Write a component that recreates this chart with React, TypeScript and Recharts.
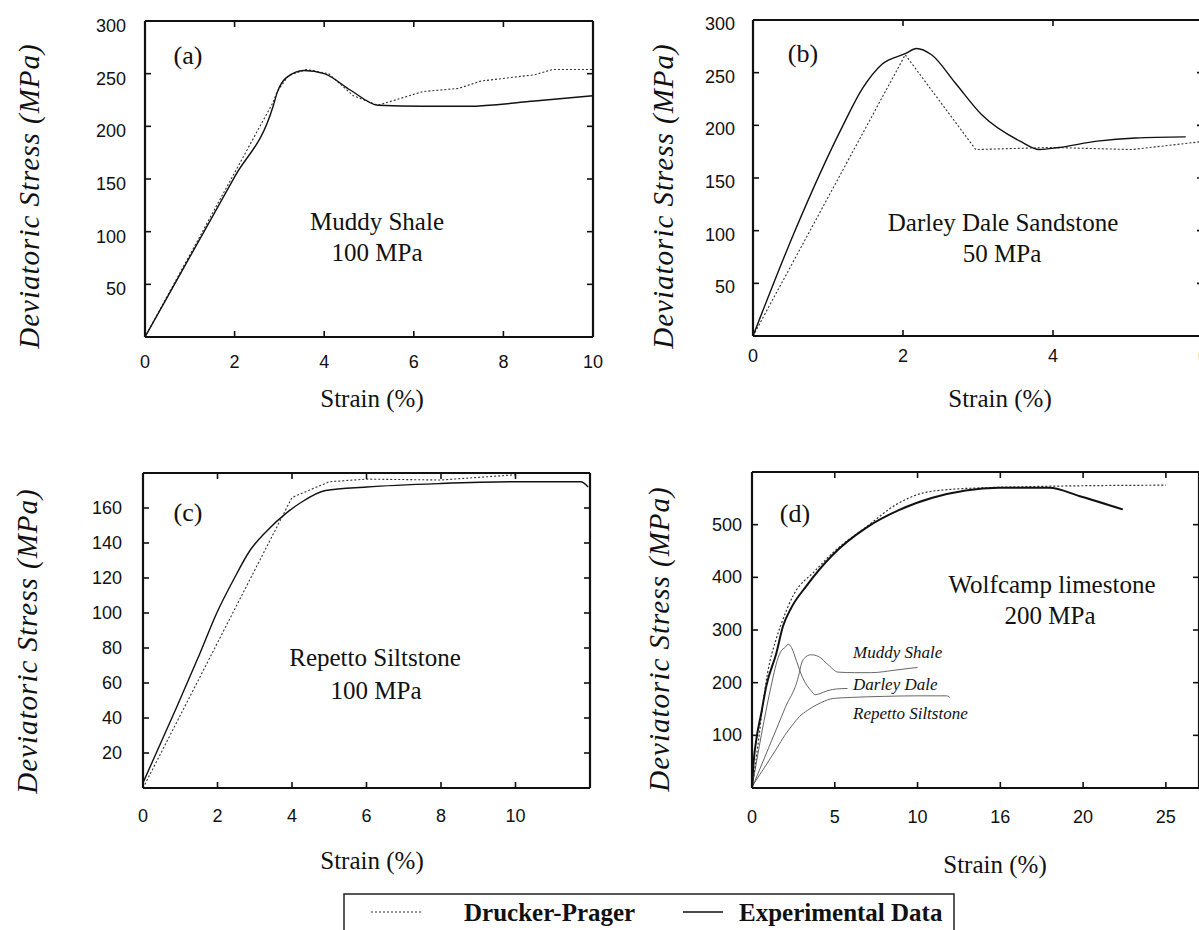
import React from 'react';
import { LineChart, Line, XAxis, YAxis, ReferenceDot } from 'recharts';

// (a) Muddy Shale, 100 MPa confining
const muddyExpStrain = [0, 1, 2, 2.86, 2.95, 3.15, 3.55, 4.0, 4.6, 5.2, 6.2, 7.2, 8.7, 10];
const muddyExpStress = [0, 76, 152, 219, 232, 246, 253, 250, 234, 220, 219, 219, 224, 229];
const muddyDpStrain = [0, 1, 2, 2.85, 2.95, 3.2, 3.6, 4.1, 4.65, 5.2, 6.2, 7.0, 7.5, 8.7, 9.1, 10];
const muddyDpStress = [0, 78, 156, 222, 233, 248, 254, 250, 229, 220, 233, 236, 243, 249, 254, 254];

// (b) Darley Dale Sandstone, 50 MPa
const darleyExpStrain = [0, 0.56, 1.2, 1.46, 1.72, 2.03, 2.18, 2.38, 2.7, 3.05, 3.56, 3.82, 4.08, 4.59, 5.1, 5.77];
const darleyExpStress = [0, 100, 200, 235, 258, 268, 273, 267, 240, 210, 185, 177, 179, 185, 188, 189];
const darleyDpStrain = [0, 2.03, 2.97, 3.97, 5.05, 5.92, 6];
const darleyDpStress = [0, 267, 177, 179, 177, 184, 185];

// (c) Repetto Siltstone, 100 MPa
const repettoExpStrain = [0, 0.9, 1.53, 1.98, 2.43, 2.88, 3.33, 3.87, 4.23, 4.9, 6, 8, 10, 11.75, 11.95];
const repettoExpStress = [3, 46, 77, 100, 119, 136, 147, 157.5, 163, 170, 172, 174, 175, 175, 172];
const repettoDpStrain = [0, 4.0, 5.0, 6.0, 8.0, 10.0];
const repettoDpStress = [0, 166, 175, 176.5, 176, 179];

// (d) Wolfcamp limestone, 200 MPa
const wolfExpStrain = [0, 0.1, 0.26, 0.56, 0.86, 1.47, 1.87, 2.37, 3.27, 4.88, 6.89, 8.9, 10.9, 12.9, 14.9, 17.95, 19.8, 22.4];
const wolfExpStress = [0, 50, 92, 142, 193, 256, 307, 342, 383, 443, 494, 528, 551, 565, 570, 570, 554, 529];
const wolfDpStrain = [0, 0.4, 0.64, 0.94, 1.45, 1.75, 2.5, 3.8, 5.0, 7.0, 8.7, 10.3, 12, 14, 18, 25];
const wolfDpStress = [0, 92, 155, 218, 282, 310, 366, 412, 450, 498, 538, 560, 567, 570, 573, 575];

const ticksA = [0, 2, 4, 6, 8, 10];
const ticksB = [0, 2, 4, 6];
const ticksC = [0, 2, 4, 6, 8, 10];
const ticksD = [0, 5, 10, 15, 20, 25];
const labelsD = ['0', '5', '10', '16', '20', '25'];
const stressTicks300 = [50, 100, 150, 200, 250, 300];
const stressTicks180 = [20, 40, 60, 80, 100, 120, 140, 160];
const stressTicks600 = [100, 200, 300, 400, 500];

type Pt = { x: number; y: number };
const zip = (xs: number[], ys: number[]): Pt[] => xs.map((x, i) => ({ x, y: ys[i] }));

const SERIF = '"Liberation Serif", "Times New Roman", serif';
const SANS = '"Liberation Sans", Arial, sans-serif';
const INK = '#111';

interface Note {
  text: string;
  px: number;
  py: number;
  size: number;
  italic?: boolean;
  start?: boolean;
}

interface Series {
  data: Pt[];
  dotted?: boolean;
  width?: number;
  color?: string;
  straight?: boolean;
}

interface PanelProps {
  box: { left: number; top: number; right: number; bottom: number };
  xDomain: [number, number];
  yDomain: [number, number];
  xTicks: number[];
  xLabels?: string[];
  yTicks: number[];
  series: Series[];
  notes: Note[];
  yTitle: [number, number];
  xTitle: [number, number];
  yTickGap: number;
  yTickDrop: number;
  xTickGap: number;
}

const PAD_L = 150;
const PAD_T = 30;
const PAD_R = 20;
const PAD_B = 110;

const noTick = () => <g />;
// every axis pair shares the same domain; spreading the series over them keeps each axis in use
const axisPairs: [string, string][] = [
  ['x', 'y'],
  ['xt', 'yr'],
  ['xb', 'yl'],
];

function Panel(p: PanelProps) {
  const w = p.box.right - p.box.left;
  const h = p.box.bottom - p.box.top;
  const chartLeft = p.box.left - PAD_L;
  const chartTop = p.box.top - PAD_T;
  const toX = (px: number) => p.xDomain[0] + ((px - p.box.left) / w) * (p.xDomain[1] - p.xDomain[0]);
  const toY = (py: number) => p.yDomain[0] + ((p.box.bottom - py) / h) * (p.yDomain[1] - p.yDomain[0]);
  const frame = { stroke: INK, strokeWidth: 2.2 };
  const tickMark = { stroke: INK, strokeWidth: 1.6 };
  const xLabel = (v: number) => (p.xLabels ? p.xLabels[p.xTicks.indexOf(v)] ?? '' : String(v));
  const inner = {
    type: 'number' as const,
    allowDataOverflow: true,
    mirror: true,
    tick: noTick,
    tickSize: 6,
    axisLine: frame,
    tickLine: tickMark,
    dataKey: 'x',
  };

  return (
    <div style={{ position: 'absolute', left: chartLeft, top: chartTop }}>
      <LineChart
        width={PAD_L + w + PAD_R}
        height={PAD_T + h + PAD_B}
        margin={{ top: PAD_T, right: PAD_R, bottom: 0, left: 0 }}
      >
        <XAxis
          xAxisId="x"
          type="number"
          dataKey="x"
          domain={p.xDomain}
          allowDataOverflow
          ticks={p.xTicks}
          height={PAD_B}
          axisLine={false}
          tickLine={false}
          tickSize={0}
          tickMargin={p.xTickGap}
          tick={(t: any) => (
            <text x={t.x} y={t.y} textAnchor="middle" dominantBaseline="central" fontFamily={SANS} fontSize={18} fill={INK}>
              {xLabel(t.payload.value)}
            </text>
          )}
          label={() => (
            <text
              x={p.xTitle[0] - chartLeft}
              y={p.xTitle[1] - chartTop}
              textAnchor="middle"
              dominantBaseline="central"
              fontFamily={SERIF}
              fontSize={25}
              fill={INK}
            >
              Strain (%)
            </text>
          )}
        />
        <XAxis xAxisId="xb" orientation="bottom" height={1} domain={p.xDomain} ticks={p.xTicks} {...inner} />
        <XAxis xAxisId="xt" orientation="top" height={1} domain={p.xDomain} ticks={p.xTicks} {...inner} />
        <YAxis
          yAxisId="y"
          type="number"
          domain={p.yDomain}
          allowDataOverflow
          ticks={p.yTicks}
          width={PAD_L}
          axisLine={false}
          tickLine={false}
          tickSize={0}
          tickMargin={p.yTickGap}
          tick={(t: any) => (
            <text x={t.x} y={t.y + p.yTickDrop} textAnchor="end" dominantBaseline="central" fontFamily={SANS} fontSize={18} fill={INK}>
              {t.payload.value}
            </text>
          )}
          label={() => (
            <text
              x={p.yTitle[0] - chartLeft}
              y={p.yTitle[1] - chartTop}
              transform={`rotate(-90 ${p.yTitle[0] - chartLeft} ${p.yTitle[1] - chartTop})`}
              textAnchor="middle"
              dominantBaseline="central"
              fontFamily={SERIF}
              fontStyle="italic"
              fontSize={29}
              letterSpacing={1}
              fill={INK}
            >
              Deviatoric Stress (MPa)
            </text>
          )}
        />
        <YAxis yAxisId="yl" orientation="left" width={1} domain={p.yDomain} ticks={p.yTicks} {...inner} dataKey={undefined} />
        <YAxis yAxisId="yr" orientation="right" width={1} domain={p.yDomain} ticks={p.yTicks} {...inner} dataKey={undefined} />

        {p.series.map((s, i) => (
          <Line
            key={i}
            xAxisId={axisPairs[i % 3][0]}
            yAxisId={axisPairs[i % 3][1]}
            data={s.data}
            dataKey="y"
            type={s.straight ? 'linear' : 'monotone'}
            stroke={s.color ?? INK}
            strokeWidth={s.width ?? 1.4}
            strokeDasharray={s.dotted ? '2 2' : undefined}
            dot={false}
            activeDot={false}
            isAnimationActive={false}
          />
        ))}

        {p.notes.map((n, i) => (
          <ReferenceDot
            key={`n${i}`}
            xAxisId="x"
            yAxisId="y"
            x={toX(n.px)}
            y={toY(n.py)}
            r={0}
            fill="none"
            stroke="none"
            label={{
              value: n.text,
              position: n.start ? 'right' : 'center',
              offset: 0,
              fontSize: n.size,
              fontFamily: SERIF,
              fontStyle: n.italic ? 'italic' : 'normal',
              fill: INK,
            }}
          />
        ))}
      </LineChart>
    </div>
  );
}

function FigureLegend() {
  return (
    <svg style={{ position: 'absolute', left: 343, top: 893 }} width={612} height={40}>
      <polyline points="1,40 1,1 611,1 611,40" fill="none" stroke="#222" strokeWidth={1.5} />
      <line x1={28} y1={19} x2={79} y2={19} stroke="#333" strokeWidth={1.2} strokeDasharray="2 2" />
      <text x={121} y={19} dominantBaseline="central" fontFamily={SERIF} fontWeight="bold" fontSize={25} fill={INK}>
        Drucker-Prager
      </text>
      <line x1={340} y1={19} x2={380} y2={19} stroke={INK} strokeWidth={1.3} />
      <text x={396} y={19} dominantBaseline="central" fontFamily={SERIF} fontWeight="bold" fontSize={25} fill={INK}>
        Experimental Data
      </text>
    </svg>
  );
}

export default function App() {
  const inset = '#555';
  return (
    <div style={{ position: 'absolute', left: 0, top: 0, width: 1199, height: 930, overflow: 'hidden', background: '#fff' }}>
      <Panel
        box={{ left: 145, top: 21, right: 593, bottom: 337 }}
        xDomain={[0, 10]}
        yDomain={[0, 300]}
        xTicks={ticksA}
        yTicks={stressTicks300}
        yTickGap={19}
        yTickDrop={5}
        xTickGap={25}
        yTitle={[29, 196]}
        xTitle={[372, 398]}
        series={[
          { data: zip(muddyDpStrain, muddyDpStress), dotted: true, color: '#333', width: 1.1, straight: true },
          { data: zip(muddyExpStrain, muddyExpStress) },
        ]}
        notes={[
          { text: '(a)', px: 188, py: 55, size: 26 },
          { text: 'Muddy Shale', px: 377, py: 221, size: 25 },
          { text: '100 MPa', px: 377, py: 252, size: 25 },
        ]}
      />
      <Panel
        box={{ left: 753, top: 20, right: 1203, bottom: 336 }}
        xDomain={[0, 6]}
        yDomain={[0, 300]}
        xTicks={ticksB}
        yTicks={stressTicks300}
        yTickGap={18}
        yTickDrop={4}
        xTickGap={20}
        yTitle={[663, 196]}
        xTitle={[1000, 398]}
        series={[
          { data: zip(darleyDpStrain, darleyDpStress), dotted: true, color: '#333', width: 1.1, straight: true },
          { data: zip(darleyExpStrain, darleyExpStress) },
        ]}
        notes={[
          { text: '(b)', px: 803, py: 53, size: 26 },
          { text: 'Darley Dale Sandstone', px: 1003, py: 222, size: 25 },
          { text: '50 MPa', px: 1002, py: 253, size: 25 },
        ]}
      />
      <Panel
        box={{ left: 143, top: 473, right: 590, bottom: 788 }}
        xDomain={[0, 12]}
        yDomain={[0, 180]}
        xTicks={ticksC}
        yTicks={stressTicks180}
        yTickGap={21}
        yTickDrop={0}
        xTickGap={28}
        yTitle={[27, 641]}
        xTitle={[372, 860]}
        series={[
          { data: zip(repettoDpStrain, repettoDpStress), dotted: true, color: '#333', width: 1.1, straight: true },
          { data: zip(repettoExpStrain, repettoExpStress) },
        ]}
        notes={[
          { text: '(c)', px: 188, py: 512, size: 26 },
          { text: 'Repetto Siltstone', px: 375, py: 657, size: 25 },
          { text: '100 MPa', px: 376, py: 690, size: 25 },
        ]}
      />
      <Panel
        box={{ left: 752, top: 472, right: 1199, bottom: 788 }}
        xDomain={[0, 27]}
        yDomain={[0, 600]}
        xTicks={ticksD}
        xLabels={labelsD}
        yTicks={stressTicks600}
        yTickGap={10}
        yTickDrop={0}
        xTickGap={29}
        yTitle={[659, 639]}
        xTitle={[995, 864]}
        series={[
          { data: zip(muddyExpStrain, muddyExpStress), color: inset, width: 0.9 },
          { data: zip(darleyExpStrain, darleyExpStress), color: inset, width: 0.9 },
          { data: zip(repettoExpStrain, repettoExpStress), color: inset, width: 0.9 },
          { data: zip(wolfDpStrain, wolfDpStress), dotted: true, color: '#333', width: 1.2 },
          { data: zip(wolfExpStrain, wolfExpStress), width: 2 },
        ]}
        notes={[
          { text: '(d)', px: 795, py: 513, size: 26 },
          { text: 'Wolfcamp limestone', px: 1052, py: 584, size: 25 },
          { text: '200 MPa', px: 1050, py: 615, size: 25 },
          { text: 'Muddy Shale', px: 853, py: 652, size: 17, italic: true, start: true },
          { text: 'Darley Dale', px: 853, py: 684, size: 17, italic: true, start: true },
          { text: 'Repetto Siltstone', px: 853, py: 713, size: 17, italic: true, start: true },
        ]}
      />
      <FigureLegend />
    </div>
  );
}
